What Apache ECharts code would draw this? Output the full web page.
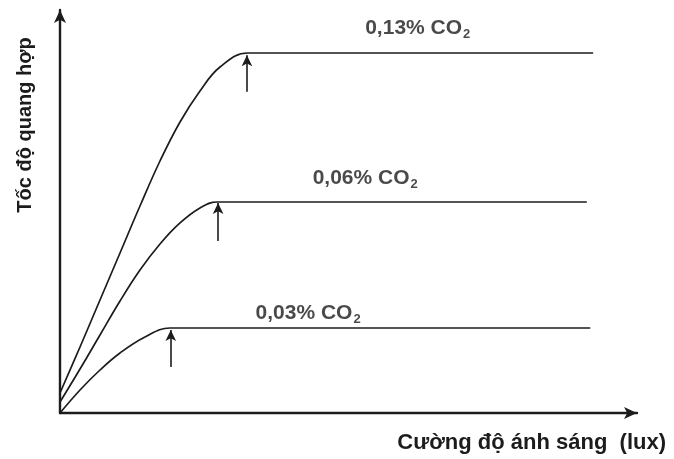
<!DOCTYPE html>
<html>
<head>
<meta charset="utf-8">
<script src="https://cdn.jsdelivr.net/npm/echarts@6/dist/echarts.min.js"></script>
<style>html,body{margin:0;padding:0;background:#fff}#c{width:674px;height:459px}</style>
</head>
<body>
<div id="c"></div>
<script>
// Light intensity (arbitrary units, 0..100) and photosynthesis rate (0..100)
const co2_013_x = [0, 3.47, 6.93, 10.4, 13.86, 17.33, 20.8, 24.26, 27.73, 32.58, 92.4];
const co2_013_y = [4.96, 16.38, 28.04, 39.7, 51.36, 62.53, 72.21, 79.9, 85.86, 89.33, 89.33];
const co2_006_x = [0, 3.47, 6.93, 10.4, 13.86, 17.33, 20.8, 24.26, 27.21, 91.3];
const co2_006_y = [2.73, 10.92, 19.35, 27.79, 35.48, 41.94, 47.15, 50.87, 52.36, 52.36];
const co2_003_x = [0, 3.47, 6.93, 10.4, 14.73, 19.06, 91.9];
const co2_003_y = [0, 5.71, 10.67, 14.89, 18.86, 21.09, 21.09];

const seriesNames = ['0,13% CO', '0,06% CO', '0,03% CO'];
const arrowX = [32.4, 27.4, 19.2];
const arrowFromY = [79.7, 42.7, 11.4];
const arrowToY = [88.8, 52.1, 20.6];
const labelX = [62.0, 52.9, 43.0];
const labelY = [95.5, 58.3, 24.8];

const xTitle = 'Cường độ ánh sáng  (lux)';
const yTitle = 'Tốc độ quang hợp';

const INK = '#1c1c1c';
const FONT = '"Liberation Sans", Arial, sans-serif';

function pairs(xs, ys) { return xs.map((x, i) => [x, ys[i]]); }
const curves = [pairs(co2_013_x, co2_013_y), pairs(co2_006_x, co2_006_y), pairs(co2_003_x, co2_003_y)];

const series = curves.map((d, i) => ({
  type: 'line',
  name: seriesNames[i] + '2',
  data: d,
  smooth: 0.4,
  symbol: 'none',
  silent: true,
  lineStyle: { color: INK, width: 1.7 },
  markLine: {
    silent: true,
    symbol: ['none', 'arrow'],
    symbolSize: [8, 11],
    label: { show: false },
    lineStyle: { color: INK, width: 1.6, type: 'solid' },
    data: [[{ coord: [arrowX[i], arrowFromY[i]] }, { coord: [arrowX[i], arrowToY[i]] }]]
  }
}));

series.push({
  type: 'scatter',
  silent: true,
  symbolSize: 1,
  itemStyle: { color: 'rgba(0,0,0,0)' },
  data: labelX.map((x, i) => ({ value: [x, labelY[i]], name: seriesNames[i] })),
  label: {
    show: true,
    position: 'inside',
    formatter: p => '{a|' + p.name + '}{s|2}',
    rich: {
      a: { fontFamily: FONT, fontWeight: 'bold', fontSize: 21, color: INK, lineHeight: 24 },
      s: { fontFamily: FONT, fontWeight: 'bold', fontSize: 13, color: INK, lineHeight: 24, padding: [12, 0, 0, 1] }
    }
  }
});

const chart = echarts.init(document.getElementById('c'), null, { renderer: 'canvas' });
chart.setOption({
  animation: false,
  backgroundColor: '#fff',
  grid: { left: 60, right: 37, top: 10, bottom: 46 },
  xAxis: {
    type: 'value', min: 0, max: 100,
    axisLine: { show: true, lineStyle: { color: INK, width: 2.4 }, symbol: ['none', 'arrow'], symbolSize: [9, 13] },
    axisTick: { show: false }, axisLabel: { show: false }, splitLine: { show: false }
  },
  yAxis: {
    type: 'value', min: 0, max: 100,
    axisLine: { show: true, lineStyle: { color: INK, width: 2.4 }, symbol: ['none', 'arrow'], symbolSize: [9, 13] },
    axisTick: { show: false }, axisLabel: { show: false }, splitLine: { show: false }
  },
  graphic: [
    { type: 'text', x: 666, y: 443, style: { text: xTitle, font: 'bold 22px ' + FONT, fill: INK, textAlign: 'right', textVerticalAlign: 'middle' } },
    { type: 'text', x: 25, y: 125, rotation: Math.PI / 2, style: { text: yTitle, font: 'bold 20px ' + FONT, fill: INK, textAlign: 'center', textVerticalAlign: 'middle' } }
  ],
  series: series
});
</script>
</body>
</html>
